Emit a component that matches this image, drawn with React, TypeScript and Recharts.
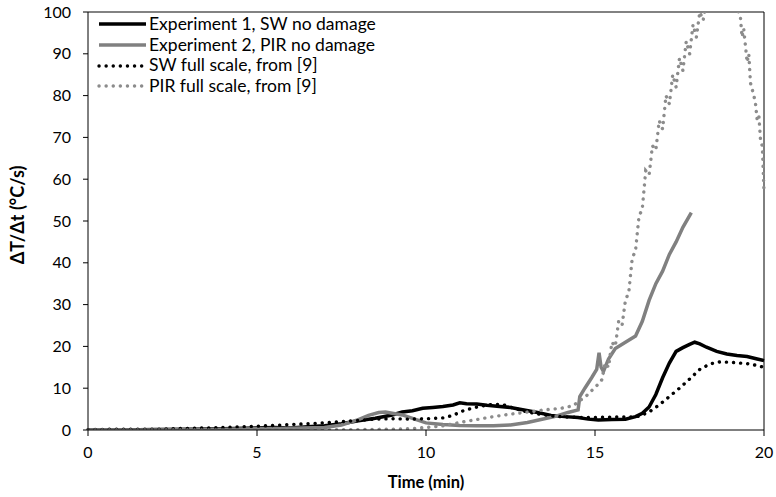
import React from "react";
import { LineChart, Line, XAxis, YAxis, ReferenceLine } from "recharts";

// Experiment 1, SW no damage (black solid)
const exp1Time = [0, 1, 2, 3, 4, 5, 5.5, 6, 6.5, 7, 7.5, 8, 8.5, 9, 9.3, 9.6, 9.9, 10.2, 10.5, 10.8, 11, 11.2, 11.5, 11.8, 12.1, 12.5, 12.9, 13.3, 13.7, 14.1, 14.5, 14.8, 15.1, 15.5, 15.9, 16.2, 16.4, 16.6, 16.8, 17.0, 17.2, 17.4, 17.6, 17.8, 17.95, 18.1, 18.3, 18.6, 18.9, 19.2, 19.5, 19.8, 20];
const exp1Val = [0, 0, 0.1, 0.2, 0.3, 0.5, 0.6, 0.5, 0.8, 1.0, 1.5, 2.2, 2.8, 3.6, 4.3, 4.6, 5.2, 5.4, 5.6, 6.0, 6.5, 6.3, 6.2, 5.9, 5.7, 5.4, 4.8, 4.2, 3.5, 3.2, 3.0, 2.6, 2.4, 2.5, 2.6, 3.2, 4.0, 5.5, 8.5, 12.5, 16, 18.8, 19.7, 20.5, 21, 20.6, 19.8, 18.8, 18.2, 17.8, 17.6, 17.0, 16.6];

// Experiment 2, PIR no damage (grey solid)
const exp2Time = [0, 1, 2, 3, 4, 5, 6, 7, 7.5, 8, 8.3, 8.6, 8.8, 9.0, 9.3, 9.6, 10, 10.5, 11, 11.5, 12, 12.5, 13, 13.4, 13.8, 14.2, 14.5, 14.55, 14.7, 14.9, 15.05, 15.12, 15.18, 15.25, 15.4, 15.6, 15.9, 16.2, 16.4, 16.6, 16.8, 17.0, 17.2, 17.4, 17.6, 17.85];
const exp2Val = [0, 0, 0, 0.1, 0.2, 0.3, 0.4, 0.6, 1.2, 2.5, 3.5, 4.2, 4.3, 4.0, 3.6, 2.8, 1.7, 1.3, 1.1, 1.0, 1.0, 1.2, 1.8, 2.5, 3.2, 4.2, 4.8, 8, 10, 12.5, 14.5, 18.5, 15, 14, 17, 19.5, 21, 22.5, 26, 31, 35, 38, 42, 45, 48.5, 52];

// SW full scale, from [9] (black dotted)
const swTime = [0, 1, 2, 3, 4, 5, 6, 7, 7.5, 8, 8.5, 9, 9.5, 10, 10.5, 10.8, 11.1, 11.4, 11.7, 12, 12.3, 12.6, 13, 13.4, 13.8, 14.2, 14.6, 15, 15.5, 16, 16.3, 16.6, 16.9, 17.2, 17.5, 17.8, 18.1, 18.4, 18.7, 19, 19.3, 19.6, 20];
const swVal = [0.1, 0.2, 0.2, 0.4, 0.6, 0.9, 1.3, 1.7, 2.0, 2.3, 2.6, 2.7, 2.6, 2.7, 2.9, 3.5, 4.6, 5.3, 5.8, 6.2, 6.0, 5.2, 4.3, 3.7, 3.3, 3.1, 3.0, 3.0, 3.1, 3.1, 3.3, 4.3, 6, 8, 10, 12.2, 14.5, 15.8, 16.3, 16.2, 16, 15.8, 15.0];

// PIR full scale, from [9] (grey dotted)
const pirTime = [0, 2, 4, 6, 8, 9, 9.5, 10, 10.5, 11, 11.5, 12, 12.5, 13, 13.5, 14, 14.35, 14.75, 15.15, 15.2, 15.3, 15.4, 15.5, 15.6, 15.7, 15.8, 15.9, 16.0, 16.1, 16.2, 16.3, 16.4, 16.5, 16.6, 16.7, 16.8, 16.9, 17.0, 17.1, 17.2, 17.3, 17.4, 17.5, 17.6, 17.7, 17.8, 17.9, 18.0, 18.1, 18.2, 18.3, 18.4, 18.5, 18.6, 18.7, 18.8, 18.9, 19.0, 19.1, 19.2, 19.3, 19.35, 19.4, 19.5, 19.55, 19.6, 19.7, 19.75, 19.8, 19.85, 19.9, 19.95, 20];
const pirVal = [0, 0, 0, 0, 0.1, 0.2, 0.3, 0.6, 1.0, 1.8, 2.5, 3.2, 3.8, 4.3, 4.8, 5.2, 5.8, 8.2, 11.4, 12, 16, 15, 21, 20, 26, 25, 31, 33, 41, 43, 51, 53, 62, 61, 68, 67, 74, 72, 80, 78, 85, 82, 89, 86, 93, 90, 97, 94, 100, 98, 103, 101, 106, 104, 106, 105, 106, 104, 103, 101, 99, 94, 96, 88, 90, 83, 80, 78, 74, 75, 69, 68, 57];

const xTicks = [0, 5, 10, 15, 20];
const yTicks = [0, 10, 20, 30, 40, 50, 60, 70, 80, 90, 100];

const toPoints = (ts: number[], vs: number[]) => ts.map((t, i) => ({ t, v: vs[i] }));

const series = [
  { name: "Experiment 1, SW no damage", data: toPoints(exp1Time, exp1Val), color: "#000000", dash: undefined as string | undefined, width: 3.5 },
  { name: "Experiment 2, PIR no damage", data: toPoints(exp2Time, exp2Val), color: "#808080", dash: undefined as string | undefined, width: 3.5 },
  { name: "SW full scale, from [9]", data: toPoints(swTime, swVal), color: "#000000", dash: "0.1 7", width: 3.4 },
  { name: "PIR full scale, from [9]", data: toPoints(pirTime, pirVal), color: "#8c8c8c", dash: "0.1 7", width: 3.4 },
];

const font = "Lato, 'Open Sans', sans-serif";

export default function App() {
  return (
    <div style={{ position: "absolute", left: 0, top: 0, width: 776, height: 497, background: "#fff" }}>
      <LineChart width={776} height={497} margin={{ top: 12, right: 12, bottom: 37, left: 28 }}>
        <XAxis
          dataKey="t"
          type="number"
          domain={[0, 20]}
          ticks={xTicks}
          allowDuplicatedCategory={false}
          height={30}
          tickSize={6}
          tickMargin={11}
          axisLine={{ stroke: "#000", strokeWidth: 1 }}
          tickLine={{ stroke: "#000" }}
          tick={{ fill: "#000", fontSize: 16, fontFamily: font }}
        />
        <YAxis
          type="number"
          domain={[0, 100]}
          ticks={yTicks}
          allowDataOverflow
          width={60}
          tickSize={5}
          tickMargin={12}
          axisLine={{ stroke: "#000", strokeWidth: 1 }}
          tickLine={{ stroke: "#000" }}
          tick={{ fill: "#000", fontSize: 16, fontFamily: font }}
        />
        <ReferenceLine y={100} stroke="#595959" strokeWidth={1.5} />
        <ReferenceLine x={20} stroke="#000" strokeWidth={1} />
        {series.map((s) => (
          <Line
            key={s.name}
            data={s.data}
            dataKey="v"
            name={s.name}
            type="linear"
            stroke={s.color}
            strokeWidth={s.width}
            strokeDasharray={s.dash}
            strokeLinecap={s.dash ? "round" : "butt"}
            dot={false}
            activeDot={false}
            isAnimationActive={false}
          />
        ))}
      </LineChart>
      <div style={{ position: "absolute", left: 91, top: 14, fontFamily: font, fontSize: 17.5, color: "#000", background: "#fff", padding: "0 4px 2px 4px", lineHeight: "20.7px" }}>
        {series.map((s) => (
          <div key={s.name} style={{ display: "flex", alignItems: "center" }}>
            <svg width={54} height={10}>
              <line x1={4} y1={5} x2={51} y2={5} stroke={s.color} strokeWidth={s.width} strokeDasharray={s.dash} strokeLinecap={s.dash ? "round" : "butt"} />
            </svg>
            <span>{s.name}</span>
          </div>
        ))}
      </div>
      <div style={{ position: "absolute", left: 426, top: 482, transform: "translate(-50%, -50%)", whiteSpace: "nowrap", fontFamily: font, fontWeight: 700, fontSize: 16.5 }}>
        Time (min)
      </div>
      <div style={{ position: "absolute", left: 17, top: 215, transform: "translate(-50%, -50%) rotate(-90deg)", whiteSpace: "nowrap", fontFamily: font, fontWeight: 700, fontSize: 18 }}>
        ΔT/Δt (°C/s)
      </div>
    </div>
  );
}
